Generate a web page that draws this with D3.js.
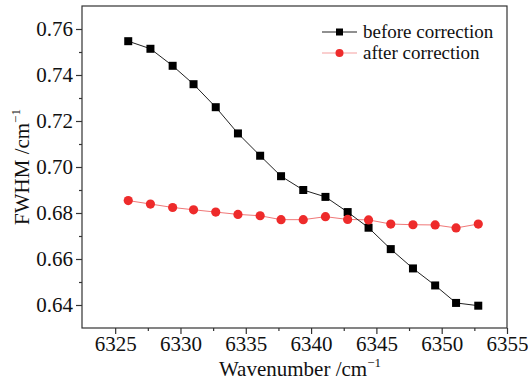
<!DOCTYPE html>
<html><head><meta charset="utf-8">
<script src="https://cdn.jsdelivr.net/npm/d3@7"></script>
</head><body style="margin:0;background:#fff"><svg id="c" width="528" height="380" style="display:block"></svg>
<script>
const wavenumber = [6326.0, 6327.7, 6329.4, 6331.0, 6332.7, 6334.4, 6336.1, 6337.7, 6339.4, 6341.1, 6342.8, 6344.4, 6346.1, 6347.8, 6349.5, 6351.1, 6352.8];
const beforeCorrection = [0.7547, 0.7514, 0.7440, 0.7360, 0.7260, 0.7146, 0.7049, 0.6960, 0.6900, 0.6870, 0.6804, 0.6736, 0.6643, 0.6559, 0.6485, 0.6409, 0.6397];
const afterCorrection = [0.6854, 0.6839, 0.6824, 0.6814, 0.6804, 0.6794, 0.6788, 0.6771, 0.6771, 0.6784, 0.6772, 0.6770, 0.6752, 0.6749, 0.6748, 0.6735, 0.6752];
const xTicks = [6325, 6330, 6335, 6340, 6345, 6350, 6355];
const yTicks = [0.64, 0.66, 0.68, 0.70, 0.72, 0.74, 0.76];
const seriesNames = ["before correction", "after correction"];

const FONT = "Liberation Serif";
function font(sel, size) {
  return sel.attr("font-family", FONT).style("font-family", FONT)
    .attr("font-size", size).style("font-size", size + "px").attr("fill", "#111");
}
const svg = d3.select("#c");
const L = 82, R = 507, T = 6, B = 328;
const x = d3.scaleLinear().domain([6322.46, 6355.0]).range([L, R]);
const y = d3.scaleLinear().domain([0.63, 0.77]).range([B, T]);

svg.append("rect").attr("x", L).attr("y", T).attr("width", R - L).attr("height", B - T)
  .attr("fill", "none").attr("stroke", "#333").attr("stroke-width", 1.2);

// minor ticks
svg.append("g").attr("transform", `translate(0,${B})`)
  .call(d3.axisBottom(x).tickValues(d3.range(6327.5, 6355, 5)).tickSize(3).tickFormat(""))
  .call(g => g.select(".domain").remove())
  .call(g => g.selectAll("line").attr("stroke", "#333").attr("stroke-width", 1.2));
svg.append("g").attr("transform", `translate(${L},0)`)
  .call(d3.axisLeft(y).tickValues(d3.range(0.65, 0.77, 0.02)).tickSize(3).tickFormat(""))
  .call(g => g.select(".domain").remove())
  .call(g => g.selectAll("line").attr("stroke", "#333").attr("stroke-width", 1.2));

const xa = svg.append("g").attr("transform", `translate(0,${B})`)
  .call(d3.axisBottom(x).tickValues(xTicks).tickSize(6).tickPadding(2).tickFormat(d3.format("d")));
xa.attr("font-family", null).attr("font-size", null);
xa.select(".domain").remove();
xa.selectAll("line").attr("stroke", "#333").attr("stroke-width", 1.2);
font(xa.selectAll("text"), 21);

const ya = svg.append("g").attr("transform", `translate(${L},0)`)
  .call(d3.axisLeft(y).tickValues(yTicks).tickSize(6).tickPadding(3).tickFormat(d3.format(".2f")));
ya.attr("font-family", null).attr("font-size", null);
ya.select(".domain").remove();
ya.selectAll("line").attr("stroke", "#333").attr("stroke-width", 1.2);
font(ya.selectAll("text"), 21);

const xt = font(svg.append("text").attr("x", 300).attr("y", 376).attr("text-anchor", "middle"), 21);
font(xt.append("tspan"), 21).text("Wavenumber /cm");
font(xt.append("tspan").attr("dy", -9), 13).text("−1");

const yt = font(svg.append("text").attr("transform", `translate(29,${(T + B) / 2}) rotate(-90)`).attr("text-anchor", "middle"), 21);
font(yt.append("tspan"), 21).text("FWHM /cm");
font(yt.append("tspan").attr("dy", -9), 13).text("−1");

const line = d3.line().x(d => x(d[0])).y(d => y(d[1]));
const before = wavenumber.map((w, i) => [w, beforeCorrection[i]]);
const after = wavenumber.map((w, i) => [w, afterCorrection[i]]);

svg.append("path").datum(after).attr("d", line).attr("fill", "none").attr("stroke", "#f07878").attr("stroke-width", 1);
svg.append("path").datum(before).attr("d", line).attr("fill", "none").attr("stroke", "#222").attr("stroke-width", 1);

svg.append("g").selectAll("rect").data(before).join("rect")
  .attr("x", d => x(d[0]) - 4).attr("y", d => y(d[1]) - 4).attr("width", 8).attr("height", 8).attr("fill", "#000");
svg.append("g").selectAll("circle").data(after).join("circle")
  .attr("cx", d => x(d[0])).attr("cy", d => y(d[1])).attr("r", 4.6).attr("fill", "#ee2b2b");

const lg = svg.append("g");
const rows = [{y: 32, stroke: "#222", name: seriesNames[0], sq: true}, {y: 53, stroke: "#f5a0a0", name: seriesNames[1], sq: false}];
rows.forEach(r => {
  lg.append("line").attr("x1", 322).attr("x2", 357).attr("y1", r.y).attr("y2", r.y).attr("stroke", r.stroke).attr("stroke-width", 1.2);
  if (r.sq) lg.append("rect").attr("x", 336).attr("y", r.y - 3.5).attr("width", 7).attr("height", 7).attr("fill", "#000");
  else lg.append("circle").attr("cx", 339.5).attr("cy", r.y).attr("r", 4).attr("fill", "#ee2b2b");
  font(lg.append("text").attr("x", 363).attr("y", r.y + 6), 19).text(r.name);
});
</script></body></html>
